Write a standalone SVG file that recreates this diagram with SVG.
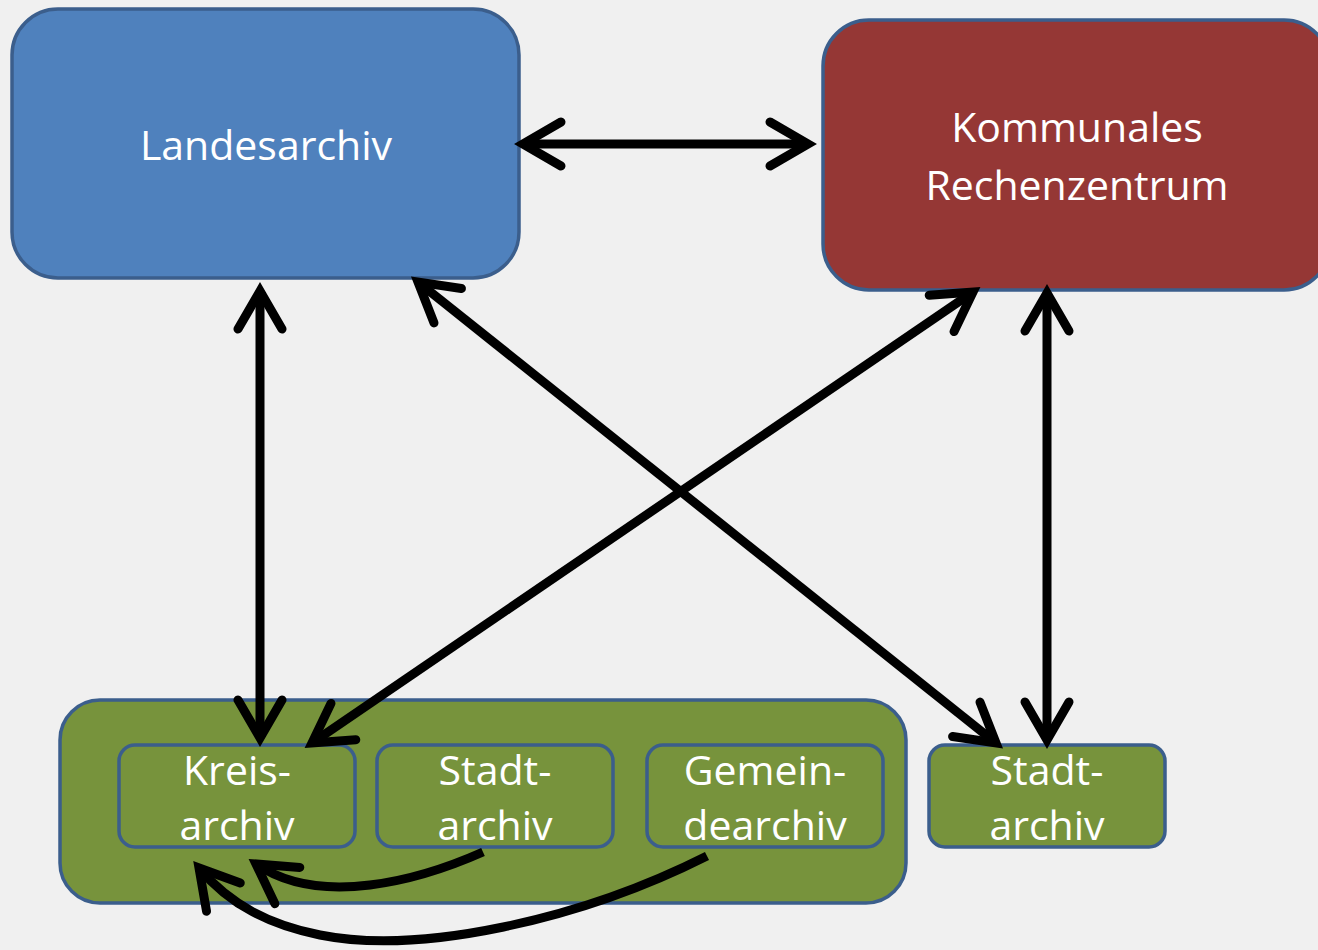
<svg xmlns="http://www.w3.org/2000/svg" width="1318" height="950" viewBox="0 0 1318 950">
<defs>
<style>
.box{stroke:#3b5e8c;stroke-width:3.5}
.blue{fill:#4f81bd}
.red{fill:#953735}
.green{fill:#77933c}
.t{font-family:"Open Sans","Noto Sans",sans-serif;font-size:41px;fill:#ffffff;text-anchor:middle}
.c{fill:none;stroke:#000;stroke-width:9}
</style>
<marker id="ah" markerUnits="userSpaceOnUse" markerWidth="80" markerHeight="80" refX="0" refY="0" viewBox="-50 -40 60 80" orient="auto-start-reverse" overflow="visible">
<path d="M-38,-22 L0,0 L-38,22" fill="none" stroke="#000" stroke-width="9" stroke-linecap="round" stroke-linejoin="miter"/>
</marker>
</defs>
<rect width="1318" height="950" fill="#f0f0f0"/>
<g id="landesarchiv">
<rect class="box blue" x="12" y="9" width="507" height="269" rx="46"/>
<text class="t" x="266" y="160">Landesarchiv</text>
</g>
<g id="rechenzentrum">
<rect class="box red" x="823" y="20" width="507" height="270" rx="46"/>
<text class="t" x="1077" y="142">Kommunales</text>
<text class="t" x="1077" y="200">Rechenzentrum</text>
</g>
<g id="kommunalarchive">
<rect class="box green" x="60" y="700" width="846" height="203" rx="40"/>
</g>
<g id="kreisarchiv">
<rect class="box green" x="119" y="745" width="236" height="102" rx="16"/>
<text class="t" x="237" y="785">Kreis-</text>
<text class="t" x="237" y="840">archiv</text>
</g>
<g id="stadtarchiv1">
<rect class="box green" x="377" y="745" width="236" height="102" rx="16"/>
<text class="t" x="495" y="785">Stadt-</text>
<text class="t" x="495" y="840">archiv</text>
</g>
<g id="gemeindearchiv">
<rect class="box green" x="647" y="745" width="236" height="102" rx="16"/>
<text class="t" x="765" y="785">Gemein-</text>
<text class="t" x="765" y="840">dearchiv</text>
</g>
<g id="stadtarchiv2">
<rect class="box green" x="929" y="745" width="236" height="102" rx="16"/>
<text class="t" x="1047" y="785">Stadt-</text>
<text class="t" x="1047" y="840">archiv</text>
</g>
<g id="connectors">
<path class="c" d="M523,144 L808,144" marker-start="url(#ah)" marker-end="url(#ah)"/>
<path class="c" d="M260,291 L260,738" marker-start="url(#ah)" marker-end="url(#ah)"/>
<path class="c" d="M1047,293 L1047,740" marker-start="url(#ah)" marker-end="url(#ah)"/>
<path class="c" d="M418,282 L996,743" marker-start="url(#ah)" marker-end="url(#ah)"/>
<path class="c" d="M973,292 L312,743" marker-start="url(#ah)" marker-end="url(#ah)"/>
<path class="c" d="M483,852 C420,880 320,908 256,864" marker-end="url(#ah)"/>
<path class="c" d="M707,856 C580,920 420,955 320,935 C270,925 230,905 199,868" marker-end="url(#ah)"/>
</g>
</svg>
